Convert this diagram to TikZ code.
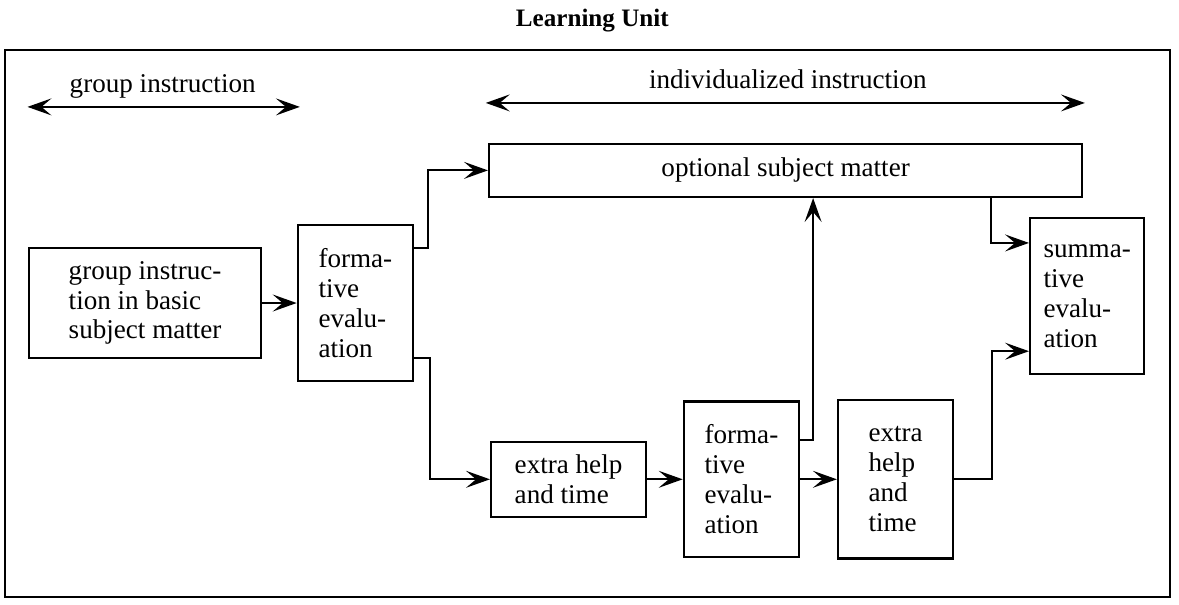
\documentclass[tikz,border=0pt]{standalone}
\usepackage{fontspec}
\setmainfont{Liberation Serif}
\usetikzlibrary{arrows.meta}

\tikzset{
  unitbox/.style={draw,line width=1.2pt,align=left,inner sep=2pt},
  flow/.style={line width=1.1pt,-{Stealth[length=12pt,width=8.5pt,inset=5pt]}},
  twoway/.style={line width=1.1pt,{Stealth[length=12pt,width=8.5pt,inset=5pt]}-{Stealth[length=12pt,width=8.5pt,inset=5pt]}}
}

\begin{document}
\begin{tikzpicture}[font=\fontsize{13.6}{15}\selectfont]
\useasboundingbox (0,0) rectangle (20.8,10.656);
\draw[line width=1.2pt] (0.09,0.12) rectangle (20.64,9.77);
\node[anchor=base,font=\bfseries\fontsize{12.6}{15}\selectfont] (title) at (10.45,10.18) {Learning Unit};

% the two kinds of instruction
\node[anchor=base] (grp) at (2.87,9.03) {group instruction};
\coordinate (grpL) at (0.485,8.77);
\coordinate (grpR) at (5.29,8.77);
\draw[twoway] (grpL) -- (grpR);

\node[anchor=base] (ind) at (13.9,9.10) {individualized instruction};
\coordinate (indL) at (8.57,8.84);
\coordinate (indR) at (19.14,8.84);
\draw[twoway] (indL) -- (indR);

% boxes
\node[unitbox,minimum width=4.09cm,minimum height=1.94cm] (basic) at (2.56,5.31) {group instruc-\\tion in basic\\subject matter};
\node[unitbox,minimum width=2.03cm,minimum height=2.75cm] (form1) at (6.27,5.31) {forma-\\tive\\evalu-\\ation};
\node[unitbox,minimum width=10.46cm,minimum height=0.935cm] (optional) at (13.86,7.65) {optional subject matter};
\node[unitbox,minimum width=2.73cm,minimum height=1.32cm] (help1) at (10.03,2.2) {extra help\\and time};
\node[unitbox,minimum width=2.03cm,minimum height=2.75cm] (form2) at (13.08,2.2) {forma-\\tive\\evalu-\\ation};
\node[unitbox,minimum width=2.03cm,minimum height=2.79cm] (help2) at (15.80,2.2) {extra\\help\\and\\time};
\node[unitbox,minimum width=2.01cm,minimum height=2.75cm] (summ) at (19.18,5.43) {summa-\\tive\\evalu-\\ation};

% arrows
\draw[flow] (basic) -- (form1);
\draw[flow] ([yshift=0.97cm]form1.east) -- ++(0.25,0) |- (optional.west);
\draw[flow] ([yshift=-0.97cm]form1.east) -- ++(0.28,0) |- (help1.west);
\draw[flow] (help1) -- (form2);
\draw[flow] ([yshift=0.69cm]form2.east) -| ([xshift=0.485cm]optional.south);
\draw[flow] (form2) -- (help2);
\draw[flow] (help2.east) -- ++(0.67,0) |- ([yshift=-0.97cm]summ.west);
\draw[flow] ([xshift=3.625cm]optional.south) |- ([yshift=0.94cm]summ.west);
\end{tikzpicture}
\end{document}
